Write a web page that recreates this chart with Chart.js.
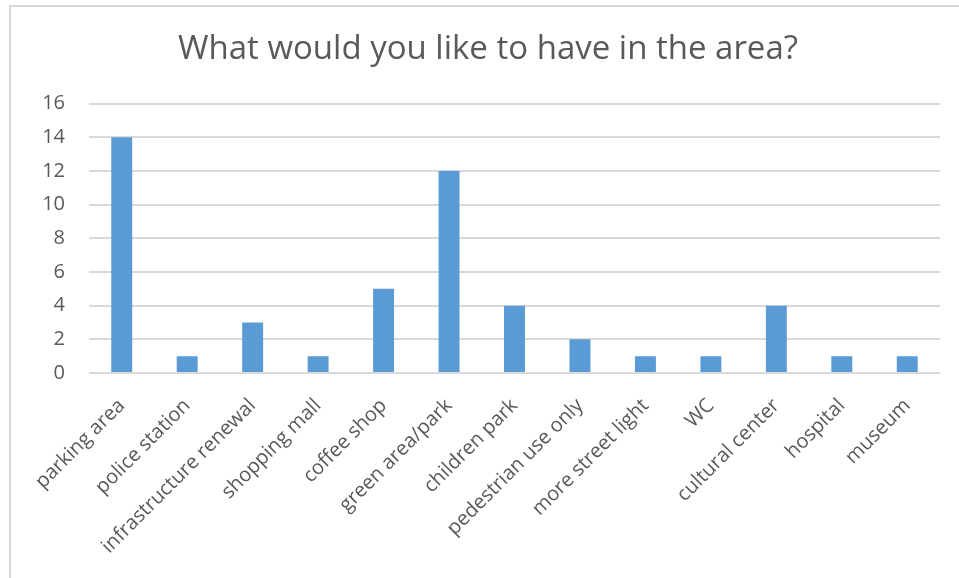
<!DOCTYPE html>
<html>
<head>
<meta charset="utf-8">
<script src="https://cdn.jsdelivr.net/npm/chart.js@4"></script>
<style>
  html, body { margin: 0; padding: 0; background: #fff; }
  #wrap { position: relative; width: 959px; height: 578px; overflow: hidden; }
  #frame { position: absolute; left: 9px; top: 5px; width: 1000px; height: 600px;
           border-left: 2px solid #d9d9d9; border-top: 2px solid #d9d9d9; box-sizing: border-box; }
  canvas { position: absolute; left: 0; top: 0; }
</style>
</head>
<body>
<div id="wrap">
  <div id="frame"></div>
  <canvas id="c" width="959" height="578"></canvas>
</div>
<script>
const categories = ["parking area", "police station", "infrastructure renewal", "shopping mall",
  "coffee shop", "green area/park", "children park", "pedestrian use only", "more street light",
  "WC", "cultural center", "hospital", "museum"];
const counts = [14, 1, 3, 1, 5, 12, 4, 2, 1, 1, 4, 1, 1];
const yTicks = [0, 2, 4, 6, 8, 10, 12, 14, 16];
const titleText = "What would you like to have in the area?";

const textColor = "#595959";
const fontFamily = "'Open Sans', sans-serif";

// shift the title box so it is centred on the chart frame rather than the plot
const titleShift = {
  id: "titleShift",
  afterLayout(chart) {
    const t = chart.titleBlock;
    if (t) { t.left += 18; t.right += 18; }
  }
};

new Chart(document.getElementById("c"), {
  type: "bar",
  data: {
    labels: categories,
    datasets: [{
      data: counts,
      backgroundColor: "#5B9BD5",
      borderWidth: 0,
      categoryPercentage: 1,
      barPercentage: 0.32
    }]
  },
  plugins: [titleShift],
  options: {
    responsive: false,
    animation: false,
    devicePixelRatio: 1,
    layout: { padding: { left: 0, right: 19, top: 0, bottom: 0 } },
    plugins: {
      legend: { display: false },
      tooltip: { enabled: false },
      title: {
        display: true,
        text: titleText,
        color: textColor,
        font: { family: fontFamily, size: 33, weight: "normal", lineHeight: 1.2 },
        padding: { top: 30, bottom: 34 }
      }
    },
    scales: {
      x: {
        grid: { display: false },
        border: { display: false },
        afterFit: (s) => { s.height = 205; },
        ticks: {
          autoSkip: false,
          minRotation: 45,
          maxRotation: 45,
          padding: 13,
          color: textColor,
          font: { family: fontFamily, size: 20 }
        }
      },
      y: {
        min: 0,
        max: 16,
        afterFit: (s) => { s.width = 89; },
        afterBuildTicks: (s) => { s.ticks = yTicks.map(v => ({ value: v })); },
        border: { display: false },
        grid: { color: "#d9d9d9", lineWidth: 2, drawTicks: false },
        ticks: {
          padding: 24,
          color: textColor,
          font: { family: fontFamily, size: 20 }
        }
      }
    }
  }
});
</script>
</body>
</html>
